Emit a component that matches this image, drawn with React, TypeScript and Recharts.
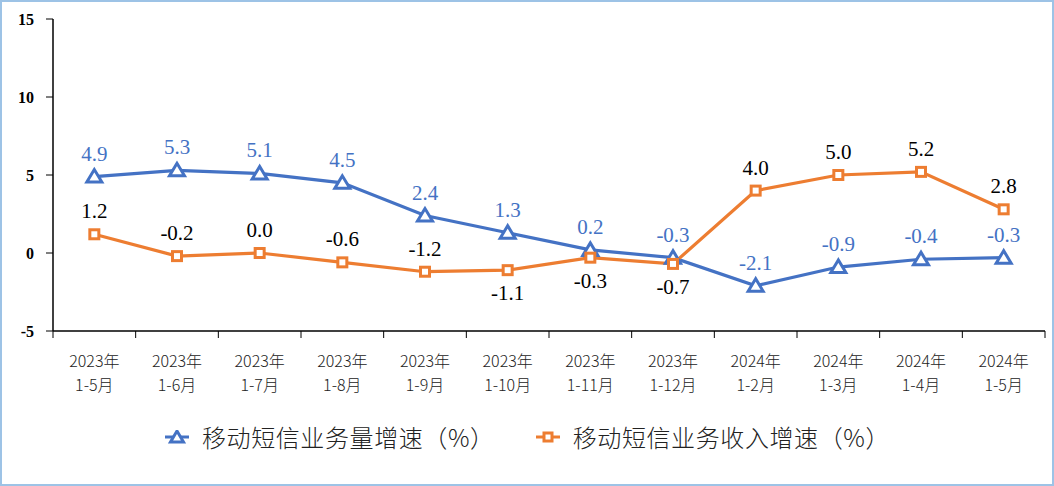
import React from 'react'
import { LineChart, Line, XAxis, YAxis, LabelList } from 'recharts'

// periods on the x axis (two-line labels)
const periodYears = ['2023年', '2023年', '2023年', '2023年', '2023年', '2023年', '2023年', '2023年', '2024年', '2024年', '2024年', '2024年']
const periodMonths = ['1-5月', '1-6月', '1-7月', '1-8月', '1-9月', '1-10月', '1-11月', '1-12月', '1-2月', '1-3月', '1-4月', '1-5月']

// 移动短信业务量增速 (%)
const volumeGrowth = [4.9, 5.3, 5.1, 4.5, 2.4, 1.3, 0.2, -0.3, -2.1, -0.9, -0.4, -0.3]
// 移动短信业务收入增速 (%)
const revenueGrowth = [1.2, -0.2, 0.0, -0.6, -1.2, -1.1, -0.3, -0.7, 4.0, 5.0, 5.2, 2.8]
// which revenue labels sit under the point
const revenueLabelBelow = [false, false, false, false, false, true, true, true, false, false, false, false]

const yTicks = [-5, 0, 5, 10, 15]
const seriesNames = ['移动短信业务量增速（%）', '移动短信业务收入增速（%）']

const BLUE = '#4472C4'
const ORANGE = '#ED7D31'

const W = 1054
const H = 486
const MARGIN = { top: 19, right: 9, bottom: 95, left: 0 }
const Y_AXIS_W = 53
const PLOT_W = W - MARGIN.left - MARGIN.right - Y_AXIS_W
const BAND = PLOT_W / periodMonths.length

const data = periodMonths.map((m, i) => ({
  key: String(i),
  volume: volumeGrowth[i],
  revenue: revenueGrowth[i],
}))

const XTick = (props: any) => {
  const { x, y, payload } = props
  const i = Number(payload.value)
  const last = i === periodMonths.length - 1
  const font = { fontSize: 16, fontFamily: "'Noto Sans CJK SC'", fontWeight: 300, fill: '#222' }
  return (
    <g>
      <line x1={x - BAND / 2} x2={x - BAND / 2} y1={y} y2={y + 7} stroke="#000" strokeWidth={1} />
      {last && <line x1={x + BAND / 2} x2={x + BAND / 2} y1={y} y2={y + 7} stroke="#000" strokeWidth={1} />}
      <text x={x} y={y + 36} textAnchor="middle" {...font}>
        {periodYears[i]}
      </text>
      <text x={x} y={y + 60} textAnchor="middle" {...font}>
        {periodMonths[i]}
      </text>
    </g>
  )
}

const TriangleDot = (props: any) => {
  const { cx, cy } = props
  if (cx == null || cy == null) return null
  return (
    <polygon
      points={`${cx},${cy - 7} ${cx - 7.5},${cy + 5.5} ${cx + 7.5},${cy + 5.5}`}
      fill="#fff"
      stroke={BLUE}
      strokeWidth={3}
    />
  )
}

const SquareDot = (props: any) => {
  const { cx, cy } = props
  if (cx == null || cy == null) return null
  return <rect x={cx - 4.5} y={cy - 4.5} width={9} height={9} fill="#fff" stroke={ORANGE} strokeWidth={3} />
}

const fmt = (v: number) => v.toFixed(1)

const volumeLabel = (props: any) => {
  const { x, y, value } = props
  return (
    <text x={x} y={y - 16} textAnchor="middle" fontSize={21} fontFamily="'Liberation Serif'" fill={BLUE}>
      {fmt(value)}
    </text>
  )
}

const revenueLabel = (props: any) => {
  const { x, y, value, index } = props
  const below = revenueLabelBelow[index]
  return (
    <text
      x={x}
      y={below ? y + 30 : y - 16}
      textAnchor="middle"
      fontSize={21}
      fontFamily="'Liberation Serif'"
      fill="#000"
    >
      {fmt(value)}
    </text>
  )
}

const LegendIcon = ({ color, shape }: { color: string; shape: 'tri' | 'sq' }) => (
  <svg width={26} height={14} style={{ marginRight: 12 }}>
    <line x1={1} x2={25} y1={7} y2={7} stroke={color} strokeWidth={3} />
    {shape === 'tri' ? (
      <polygon points="13,1 6.5,12 19.5,12" fill="#fff" stroke={color} strokeWidth={3} />
    ) : (
      <rect x={9} y={3} width={8} height={8} fill="#fff" stroke={color} strokeWidth={3} />
    )}
  </svg>
)

export default function App() {
  return (
    <div style={{ position: 'absolute', left: 0, top: 0, width: W, height: H, background: '#fff' }}>
      <LineChart width={W} height={H} data={data} margin={MARGIN}>
        <XAxis
          dataKey="key"
          height={60}
          padding={{ left: BAND / 2, right: BAND / 2 }}
          tickSize={0}
          tickMargin={0}
          tickLine={false}
          interval={0}
          axisLine={{ stroke: '#000', strokeWidth: 1.5 }}
          tick={<XTick />}
        />
        <YAxis
          type="number"
          domain={[-5, 15]}
          ticks={yTicks}
          width={Y_AXIS_W}
          tickSize={7}
          tickMargin={12}
          axisLine={{ stroke: '#000', strokeWidth: 1.5 }}
          tickLine={{ stroke: '#000' }}
          tick={{ fill: '#000', fontSize: 16, fontFamily: 'Liberation Serif', fontWeight: 'bold' }}
        />
        <Line
          dataKey="volume"
          stroke={BLUE}
          strokeWidth={3.2}
          dot={<TriangleDot />}
          activeDot={false}
          isAnimationActive={false}
        >
          <LabelList dataKey="volume" content={volumeLabel} />
        </Line>
        <Line
          dataKey="revenue"
          stroke={ORANGE}
          strokeWidth={3.2}
          dot={<SquareDot />}
          activeDot={false}
          isAnimationActive={false}
        >
          <LabelList dataKey="revenue" content={revenueLabel} />
        </Line>
      </LineChart>
      <div
        style={{
          position: 'absolute',
          left: 0,
          top: 422,
          width: W,
          display: 'flex',
          justifyContent: 'center',
          alignItems: 'center',
          fontFamily: "'Noto Sans CJK SC'",
          fontSize: 24,
          fontWeight: 300,
          letterSpacing: 0.6,
          color: '#222',
          lineHeight: '30px',
        }}
      >
        <span style={{ display: 'flex', alignItems: 'center', marginRight: 40 }}>
          <LegendIcon color={BLUE} shape="tri" />
          {seriesNames[0]}
        </span>
        <span style={{ display: 'flex', alignItems: 'center' }}>
          <LegendIcon color={ORANGE} shape="sq" />
          {seriesNames[1]}
        </span>
      </div>
      <div
        style={{
          position: 'absolute',
          inset: 0,
          border: '2px solid #9DC3E6',
          pointerEvents: 'none',
        }}
      />
    </div>
  )
}
